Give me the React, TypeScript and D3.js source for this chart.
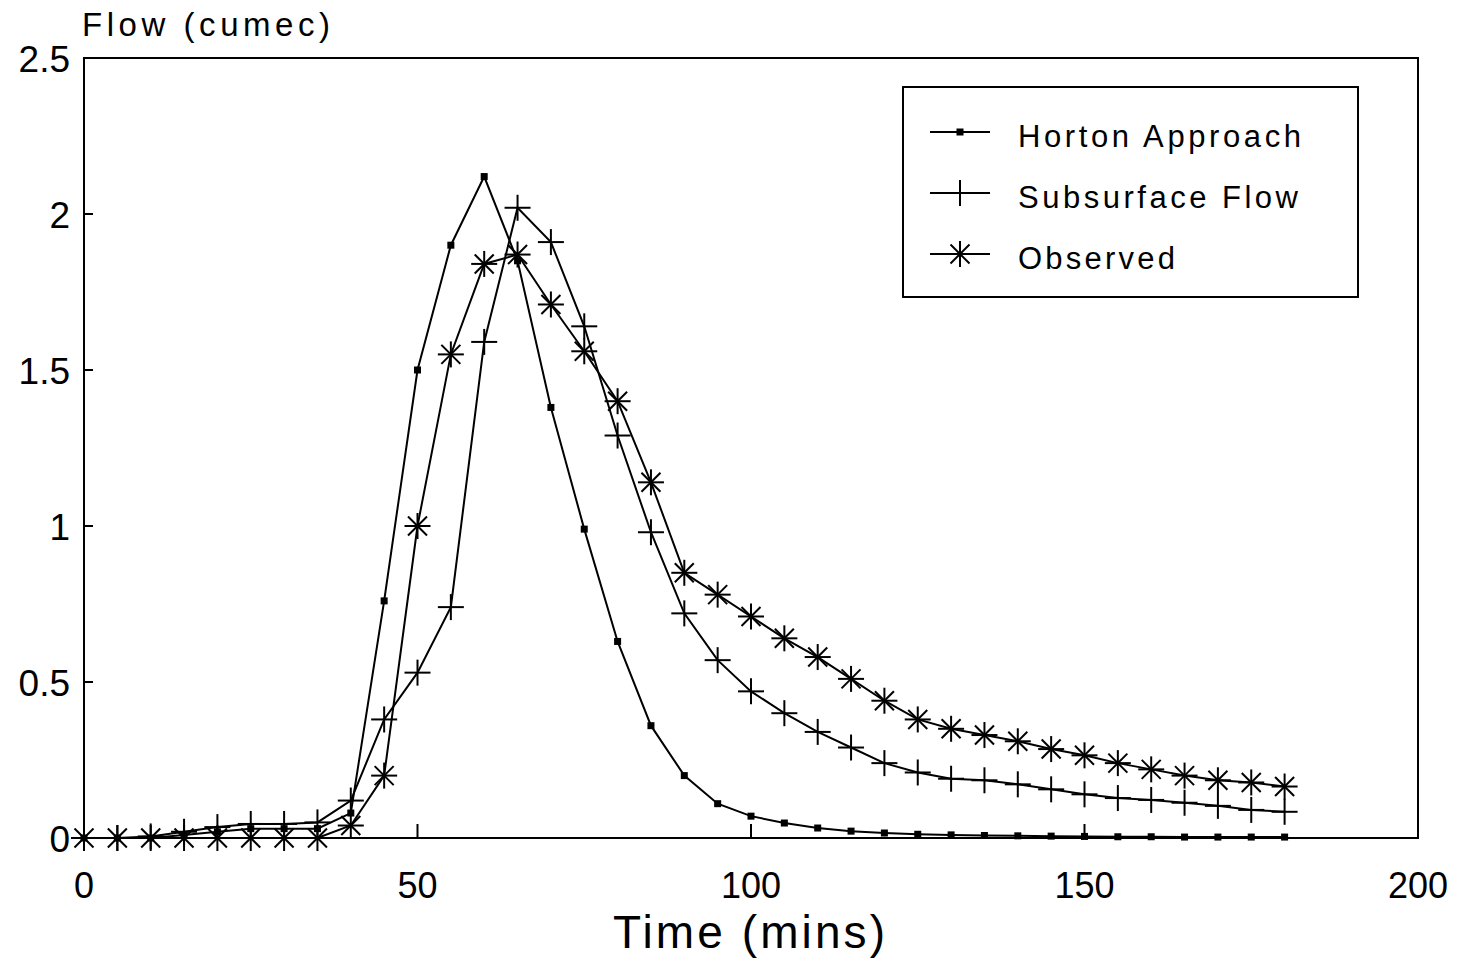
import React from "react";
import * as d3 from "d3";

const times = d3.range(0, 181, 5);
const horton = [0, 0, 0, 0.01, 0.02, 0.03, 0.03, 0.03, 0.08, 0.76, 1.5, 1.9, 2.12, 1.85, 1.38, 0.99, 0.63, 0.36, 0.2, 0.11, 0.07, 0.048, 0.032, 0.022, 0.016, 0.012, 0.01, 0.008, 0.007, 0.006, 0.005, 0.004, 0.004, 0.003, 0.003, 0.003, 0.003];
const subsurface = [0, 0, 0.005, 0.02, 0.035, 0.045, 0.045, 0.05, 0.12, 0.38, 0.53, 0.74, 1.59, 2.02, 1.91, 1.64, 1.29, 0.98, 0.72, 0.57, 0.47, 0.4, 0.34, 0.29, 0.24, 0.21, 0.19, 0.185, 0.172, 0.156, 0.14, 0.128, 0.122, 0.113, 0.103, 0.09, 0.084];
const observed = [0, 0, 0, 0, 0, 0, 0, 0, 0.04, 0.2, 1.0, 1.55, 1.84, 1.87, 1.71, 1.56, 1.4, 1.14, 0.85, 0.78, 0.71, 0.64, 0.58, 0.51, 0.44, 0.38, 0.35, 0.33, 0.31, 0.285, 0.265, 0.24, 0.22, 0.2, 0.185, 0.178, 0.165];
const xTicks = [0, 50, 100, 150, 200];
const yTicks = [0, 0.5, 1, 1.5, 2, 2.5];
const yTickLabels = ["0", "0.5", "1", "1.5", "2", "2.5"];
const seriesNames = ["Horton Approach", "Subsurface Flow", "Observed"];

const W = 1465;
const H = 963;
const left = 84, right = 1418, top = 58, bottom = 838;
const FONT = "'Liberation Sans', Arial, sans-serif";

function Marker({ kind, x, y }: { kind: string; x: number; y: number }) {
  if (kind === "square") {
    return <rect x={x - 3.5} y={y - 3.5} width={7} height={7} fill="#000" />;
  }
  if (kind === "plus") {
    const s = 13;
    return (
      <g stroke="#000" strokeWidth={2}>
        <line x1={x - s} x2={x + s} y1={y} y2={y} />
        <line x1={x} x2={x} y1={y - s} y2={y + s} />
      </g>
    );
  }
  const s = 13;
  const d = 9.5;
  return (
    <g stroke="#000" strokeWidth={2}>
      <line x1={x - s} x2={x + s} y1={y} y2={y} />
      <line x1={x} x2={x} y1={y - s} y2={y + s} />
      <line x1={x - d} x2={x + d} y1={y - d} y2={y + d} />
      <line x1={x - d} x2={x + d} y1={y + d} y2={y - d} />
    </g>
  );
}

export default function App() {
  const x = d3.scaleLinear().domain([0, 200]).range([left, right]);
  const y = d3.scaleLinear().domain([0, 2.5]).range([bottom, top]);
  const line = d3
    .line<[number, number]>()
    .x((d) => x(d[0]))
    .y((d) => y(d[1]));

  const series = [
    { name: seriesNames[0], values: horton, kind: "square" },
    { name: seriesNames[1], values: subsurface, kind: "plus" },
    { name: seriesNames[2], values: observed, kind: "star" },
  ];

  const legendX = 903, legendY = 87, legendW = 455, legendH = 210;
  const legendRows = [132, 193, 254];
  const legendTextLen = [283, 280, 157];

  return (
    <svg width={W} height={H} style={{ position: "absolute", left: 0, top: 0, background: "#fff" }}>
      <rect x={0} y={0} width={W} height={H} fill="#fff" />
      <rect x={left} y={top} width={right - left} height={bottom - top} fill="none" stroke="#000" strokeWidth={2} />
      {xTicks.map((t) => (
        <g key={"xt" + t}>
          {t > 0 && t < 200 && <line x1={x(t)} x2={x(t)} y1={bottom} y2={bottom - 14} stroke="#000" strokeWidth={2} />}
          <text x={x(t)} y={898} fontFamily={FONT} fontSize={36} textAnchor="middle" fill="#000">
            {t}
          </text>
        </g>
      ))}
      {yTicks.map((v, i) => (
        <g key={"yt" + v}>
          {v > 0 && v < 2.5 && <line x1={left} x2={left + 9} y1={y(v)} y2={y(v)} stroke="#000" strokeWidth={2} />}
          <text x={70} y={y(v) + 14} fontFamily={FONT} fontSize={37} textAnchor="end" fill="#000">
            {yTickLabels[i]}
          </text>
        </g>
      ))}
      <text x={82} y={36} fontFamily={FONT} fontSize={33} fill="#000" textLength={248} lengthAdjust="spacing">
        Flow (cumec)
      </text>
      <text x={613} y={948} fontFamily={FONT} fontSize={46} fill="#000" textLength={272} lengthAdjust="spacing">
        Time (mins)
      </text>
      {series.map((s) => {
        const pts: [number, number][] = times.map((t, i) => [t, s.values[i]]);
        return (
          <g key={s.name}>
            <path d={line(pts) || ""} fill="none" stroke="#000" strokeWidth={2} />
            {pts.map((p, i) => (
              <Marker key={i} kind={s.kind} x={x(p[0])} y={y(p[1])} />
            ))}
          </g>
        );
      })}
      <rect x={legendX} y={legendY} width={legendW} height={legendH} fill="#fff" stroke="#000" strokeWidth={2} />
      {series.map((s, i) => (
        <g key={"lg" + s.name}>
          <line x1={930} x2={990} y1={legendRows[i]} y2={legendRows[i]} stroke="#000" strokeWidth={2} />
          <Marker kind={s.kind} x={960} y={legendRows[i]} />
          <text
            x={1018}
            y={legendRows[i] + 15}
            fontFamily={FONT}
            fontSize={31}
            fill="#000"
            textLength={legendTextLen[i]}
            lengthAdjust="spacing"
          >
            {s.name}
          </text>
        </g>
      ))}
    </svg>
  );
}
